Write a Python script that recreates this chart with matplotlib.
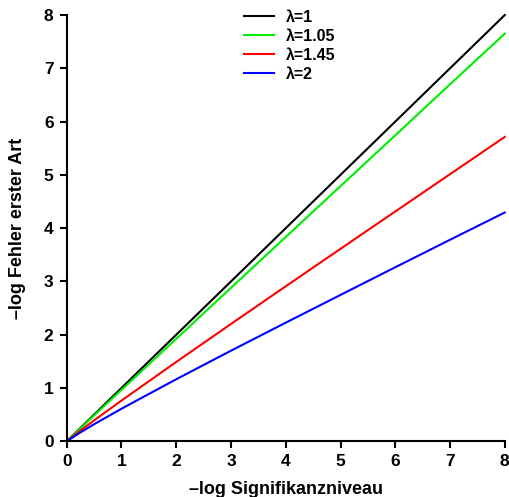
import matplotlib.pyplot as plt

plt.rcParams["font.family"] = ["Liberation Sans", "DejaVu Sans"]
plt.rcParams["font.weight"] = "bold"

# -log significance level on the x axis
x_vals = [0, 0.25, 0.5, 1, 2, 3, 4, 5, 6, 7, 8]

# -log type I error for each inflation factor lambda
y_lam_1 = [0, 0.25, 0.5, 1, 2, 3, 4, 5, 6, 7, 8]
y_lam_105 = [0, 0.243, 0.484, 0.965, 1.923, 2.880, 3.834, 4.789, 5.742, 6.70, 7.65]
y_lam_145 = [0, 0.200, 0.392, 0.764, 1.489, 2.202, 2.909, 3.612, 4.313, 5.013, 5.712]
y_lam_2 = [0, 0.166, 0.320, 0.611, 1.164, 1.700, 2.226, 2.747, 3.266, 3.782, 4.294]

series = [
    ("λ=1", y_lam_1, "black"),
    ("λ=1.05", y_lam_105, "#00ee00"),
    ("λ=1.45", y_lam_145, "red"),
    ("λ=2", y_lam_2, "blue"),
]

fig = plt.figure(figsize=(5.1, 4.97), dpi=100)
ax = fig.add_axes([0.1308, 0.1121, 0.859, 0.8577])

for label, ys, color in series:
    ax.plot(x_vals, ys, color=color, linewidth=1.5, label=label, clip_on=False)

ax.set_xlim(0, 8)
ax.set_ylim(0, 8)
ax.set_xticks(range(9))
ax.set_yticks(range(9))

for side in ("top", "right"):
    ax.spines[side].set_visible(False)
for side in ("left", "bottom"):
    ax.spines[side].set_linewidth(1.5)

ax.tick_params(direction="out", length=5, width=1.5, labelsize=12.5, pad=4.5)
for lab in ax.get_xticklabels() + ax.get_yticklabels():
    lab.set_fontweight("bold")

ax.set_xlabel("\u2013log Signifikanzniveau", fontsize=13, fontweight="bold", labelpad=8)
ax.set_ylabel("\u2013log Fehler erster Art", fontsize=13, fontweight="bold", labelpad=13)

ax.legend(
    loc="upper left",
    bbox_to_anchor=(0.39, 1.027),
    frameon=False,
    handlelength=1.85,
    handletextpad=0.8,
    labelspacing=0.25,
    borderaxespad=0,
    prop={"weight": "bold", "size": 11.5},
)

fig.savefig("out.png", dpi=100)
